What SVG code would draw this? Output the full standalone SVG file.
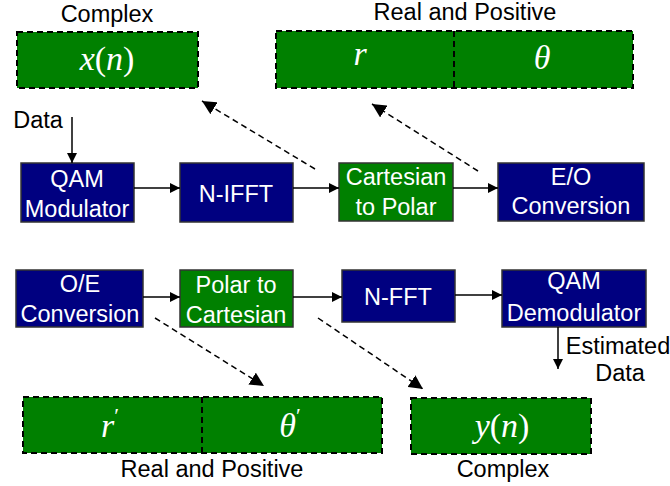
<svg xmlns="http://www.w3.org/2000/svg" width="670" height="486" viewBox="0 0 670 486">
<defs>
<marker id="ah" viewBox="0 0 10 10" refX="10" refY="5" markerWidth="10" markerHeight="10" markerUnits="userSpaceOnUse" orient="auto">
<path d="M0,0 L10,5 L0,10 Z" fill="#000"/>
</marker>
<marker id="ahd" viewBox="0 0 14 14" refX="14" refY="7" markerWidth="14" markerHeight="14" markerUnits="userSpaceOnUse" orient="auto">
<path d="M0,0 L14,7 L0,14 Z" fill="#000"/>
</marker>
</defs>
<style>
.blue{fill:#000080;stroke:#333;stroke-width:1.5}
.green{fill:#008000;stroke:#333;stroke-width:1.5}
.dbox{fill:#008000;stroke:#000;stroke-width:2;stroke-dasharray:6,4}
.div{stroke:#000;stroke-width:2;stroke-dasharray:6,4}
.bt{font-family:"Liberation Sans",Arial,sans-serif;font-size:23.5px;fill:#fff;text-anchor:middle}
.lt{font-family:"Liberation Sans",Arial,sans-serif;font-size:23.5px;fill:#000;text-anchor:middle}
.m{font-family:"Liberation Serif","Times New Roman",serif;font-size:34px;fill:#fff;text-anchor:middle}
.mi{font-style:italic}
.c{stroke:#000;stroke-width:1.5;fill:none;marker-end:url(#ah)}
.cd{stroke:#000;stroke-width:1.5;fill:none;stroke-dasharray:6,4;marker-end:url(#ahd)}
</style>
<g id="xn">
<rect class="dbox" x="17" y="32" width="181" height="56"/>
<text class="m" x="107" y="70"><tspan class="mi">x</tspan>(<tspan class="mi">n</tspan>)</text>
<text class="lt" x="107" y="22">Complex</text>
</g>
<g id="rtheta">
<rect class="dbox" x="276" y="31" width="357" height="57"/>
<line class="div" x1="454" y1="31" x2="454" y2="88"/>
<text class="m mi" x="360" y="65">r</text>
<text class="m mi" x="542" y="69">θ</text>
<text class="lt" x="465" y="20">Real and Positive</text>
</g>
<g id="qammod">
<rect class="blue" x="21" y="163" width="113" height="59"/>
<text class="bt" x="77" y="187">QAM</text>
<text class="bt" x="77" y="217">Modulator</text>
</g>
<g id="nifft">
<rect class="blue" x="180" y="163" width="113" height="59"/>
<text class="bt" x="236" y="202">N-IFFT</text>
</g>
<g id="c2p">
<rect class="green" x="339" y="163" width="114" height="58"/>
<text class="bt" x="396" y="185">Cartesian</text>
<text class="bt" x="396" y="215">to Polar</text>
</g>
<g id="eo">
<rect class="blue" x="498" y="163" width="146" height="58"/>
<text class="bt" x="571" y="185">E/O</text>
<text class="bt" x="571" y="214">Conversion</text>
</g>
<g id="oe">
<rect class="blue" x="16" y="270" width="127" height="57"/>
<text class="bt" x="80" y="292">O/E</text>
<text class="bt" x="80" y="322">Conversion</text>
</g>
<g id="p2c">
<rect class="green" x="180" y="270" width="113" height="57"/>
<text class="bt" x="236" y="293">Polar to</text>
<text class="bt" x="236" y="323">Cartesian</text>
</g>
<g id="nfft">
<rect class="blue" x="342" y="270" width="113" height="52"/>
<text class="bt" x="398" y="305">N-FFT</text>
</g>
<g id="qamdemod">
<rect class="blue" x="502" y="270" width="144" height="57"/>
<text class="bt" x="574" y="289">QAM</text>
<text class="bt" x="574" y="321">Demodulator</text>
</g>
<g id="rptp">
<rect class="dbox" x="23" y="397" width="359" height="56"/>
<line class="div" x1="202" y1="397" x2="202" y2="453"/>
<text class="m" x="110" y="437"><tspan class="mi">r</tspan><tspan font-size="22" dy="-14">′</tspan></text>
<text class="m" x="290" y="437"><tspan class="mi">θ</tspan><tspan font-size="22" dy="-14">′</tspan></text>
<text class="lt" x="212" y="477">Real and Positive</text>
</g>
<g id="yn">
<rect class="dbox" x="411" y="398" width="180" height="56"/>
<text class="m" x="502" y="437"><tspan class="mi">y</tspan>(<tspan class="mi">n</tspan>)</text>
<text class="lt" x="503" y="477">Complex</text>
</g>
<g id="labels">
<text class="lt" x="38" y="128">Data</text>
<text class="lt" x="618" y="354">Estimated</text>
<text class="lt" x="620" y="381">Data</text>
</g>
<g id="connectors">
<line class="c" x1="72" y1="117" x2="72" y2="163"/>
<line class="c" x1="134" y1="188" x2="180" y2="188"/>
<line class="c" x1="293" y1="188" x2="339" y2="188"/>
<line class="c" x1="453" y1="188" x2="498" y2="188"/>
<line class="c" x1="143" y1="297" x2="180" y2="297"/>
<line class="c" x1="293" y1="297" x2="342" y2="297"/>
<line class="c" x1="455" y1="295" x2="502" y2="295"/>
<line class="c" x1="558" y1="327" x2="558" y2="369"/>
<line class="cd" x1="315" y1="169" x2="202" y2="101"/>
<line class="cd" x1="478" y1="171" x2="372" y2="104"/>
<line class="cd" x1="155" y1="318" x2="264" y2="386"/>
<line class="cd" x1="318" y1="318" x2="423" y2="389"/>
</g>
</svg>
